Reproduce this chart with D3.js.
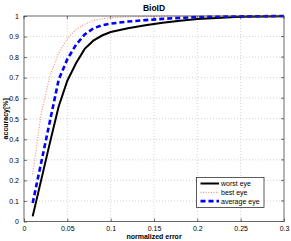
<!DOCTYPE html>
<html>
<head>
<meta charset="utf-8">
<script src="https://cdn.jsdelivr.net/npm/d3@7"></script>
<style>
body{margin:0;background:#fff;}
svg{font-family:"Liberation Sans",Arial,sans-serif;}
</style>
</head>
<body>
<svg id="chart" width="291" height="241"></svg>
<script>
// normalized error samples (x)
const errors = [0.01,0.02,0.03,0.04,0.05,0.06,0.07,0.08,0.09,0.10,0.12,0.14,0.16,0.18,0.20,0.25,0.30]
const worstEye = [0.025,0.205,0.385,0.56,0.685,0.77,0.84,0.88,0.905,0.922,0.94,0.955,0.967,0.977,0.985,0.996,0.999]
const bestEye = [0.23,0.53,0.71,0.82,0.89,0.935,0.96,0.978,0.987,0.992,0.996,0.998,0.999,1,1,1,1]
const averageEye = [0.09,0.29,0.49,0.69,0.79,0.86,0.91,0.94,0.955,0.963,0.973,0.98,0.986,0.991,0.995,0.998,1]
const xTicks = [0,0.05,0.1,0.15,0.2,0.25,0.3]
const yTicks = [0,0.1,0.2,0.3,0.4,0.5,0.6,0.7,0.8,0.9,1]

const series = [
  {name:'worst eye', values:worstEye, color:'#000', width:2, dash:null},
  {name:'best eye', values:bestEye, color:'#f4907e', width:1.2, dash:'1,1.6'},
  {name:'average eye', values:averageEye, color:'#0000ff', width:2.6, dash:'5,3'}
]

const svg = d3.select('#chart')
const m = {left:24, right:284, top:16, bottom:221.5}

const x = d3.scaleLinear().domain([0,0.3]).range([m.left, m.right])
const y = d3.scaleLinear().domain([0,1]).range([m.bottom, m.top])

// grid
const grid = svg.append('g').attr('stroke','#c8c8c8').attr('stroke-width',0.8).attr('stroke-dasharray','1,2')
grid.selectAll('.gx').data(xTicks.slice(1,-1)).enter().append('line')
  .attr('x1',d=>x(d)).attr('x2',d=>x(d)).attr('y1',m.top).attr('y2',m.bottom)
grid.selectAll('.gy').data(yTicks.slice(1,-1)).enter().append('line')
  .attr('y1',d=>y(d)).attr('y2',d=>y(d)).attr('x1',m.left).attr('x2',m.right)

// axes, matlab style: ticks inside
const xAxis = d3.axisBottom(x).tickValues(xTicks).tickSizeInner(-3).tickSizeOuter(0).tickPadding(5)
  .tickFormat(d=>d3.format('')(d))
const yAxis = d3.axisLeft(y).tickValues(yTicks).tickSizeInner(-3).tickSizeOuter(0).tickPadding(5)
  .tickFormat(d=>d3.format('')(d))
const gx = svg.append('g').attr('transform',`translate(0,${m.bottom})`).call(xAxis)
const gy = svg.append('g').attr('transform',`translate(${m.left},0)`).call(yAxis)
;[gx,gy].forEach(g=>{
  g.select('.domain').remove()
  g.selectAll('line').attr('stroke','#333').attr('stroke-width',0.7)
  g.selectAll('text').attr('font-size',7).attr('fill','#000').attr('font-family','"Liberation Sans",Arial,sans-serif')
})
// mirror ticks on top/right
svg.append('g').selectAll('line').data(xTicks).enter().append('line')
  .attr('x1',d=>x(d)).attr('x2',d=>x(d)).attr('y1',m.top).attr('y2',m.top+3)
  .attr('stroke','#333').attr('stroke-width',0.7)
svg.append('g').selectAll('line').data(yTicks).enter().append('line')
  .attr('y1',d=>y(d)).attr('y2',d=>y(d)).attr('x1',m.right).attr('x2',m.right-3)
  .attr('stroke','#333').attr('stroke-width',0.7)

// curves
const line = d3.line().x((d,i)=>x(errors[i])).y(d=>y(d))
svg.append('g').selectAll('path').data(series).enter().append('path')
  .attr('d',d=>line(d.values))
  .attr('fill','none')
  .attr('stroke',d=>d.color)
  .attr('stroke-width',d=>d.width)
  .attr('stroke-dasharray',d=>d.dash)

// box
svg.append('rect').attr('x',m.left).attr('y',m.top).attr('width',m.right-m.left).attr('height',m.bottom-m.top)
  .attr('fill','none').attr('stroke','#444').attr('stroke-width',0.8)

// legend
const lg = svg.append('g').attr('transform','translate(196.5,177.5)')
lg.append('rect').attr('width',67.5).attr('height',30).attr('fill','#fff').attr('stroke','#333').attr('stroke-width',0.8)
series.forEach((s,i)=>{
  const yy = 6+i*8.8
  lg.append('line').attr('x1',4).attr('x2',22.5).attr('y1',yy).attr('y2',yy)
    .attr('stroke',s.color).attr('stroke-width',s.width).attr('stroke-dasharray',s.dash)
  lg.append('text').attr('x',24.5).attr('y',yy+2.4).attr('font-size',7).text(s.name)
})

// labels
svg.append('text').attr('x',154).attr('y',11).attr('text-anchor','middle')
  .attr('font-size',8.5).attr('font-weight','bold').text('BioID')
svg.append('text').attr('x',154).attr('y',239).attr('text-anchor','middle')
  .attr('font-size',7).attr('font-weight','bold').text('normalized error')
svg.append('text').attr('transform',`translate(8,${(m.top+m.bottom)/2}) rotate(-90)`).attr('text-anchor','middle')
  .attr('font-size',7).attr('font-weight','bold').text('accuracy[%]')
</script>
</body>
</html>
